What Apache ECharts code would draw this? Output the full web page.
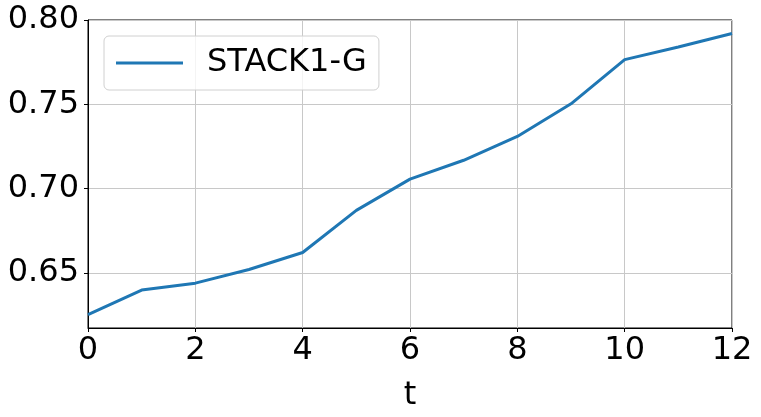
<!DOCTYPE html>
<html>
<head>
<meta charset="utf-8">
<script src="https://cdn.jsdelivr.net/npm/echarts@6/dist/echarts.min.js"></script>
<style>html,body{margin:0;padding:0;background:#fff}#c{width:761px;height:417px}</style>
</head>
<body>
<div id="c"></div>
<script>
const seriesName = 'STACK1-G';
const tValues = [0, 1, 2, 3, 4, 5, 6, 7, 8, 9, 10, 11, 12];
const stackValues = [0.6252, 0.6398, 0.6439, 0.6520, 0.6621, 0.6871, 0.7056, 0.7168, 0.7309, 0.7503, 0.7765, 0.7840, 0.7920];
const xTicks = [0, 2, 4, 6, 8, 10, 12];
const yTicks = [0.65, 0.70, 0.75, 0.80];

const font = 'DejaVu Sans';
const fs = 32;
const chart = echarts.init(document.getElementById('c'), null, {renderer: 'canvas'});
chart.setOption({
  animation: false,
  backgroundColor: '#fff',
  grid: {left: 88, right: 29, top: 20, bottom: 84, show: true, borderColor: '#000', borderWidth: 1, containLabel: false},
  legend: {
    show: true,
    left: 104, top: 36,
    padding: [11, 12, 11, 12],
    itemWidth: 67, itemHeight: 3,
    borderColor: '#d0d0d0', borderWidth: 1, borderRadius: 5,
    backgroundColor: 'rgba(255,255,255,0.8)',
    textStyle: {fontFamily: font, fontSize: fs, color: '#000', padding: [0, 0, 0, 19]},
    icon: 'rect',
    data: [{name: seriesName, itemStyle: {color: '#1f77b4'}}]
  },
  xAxis: {
    type: 'value', min: 0, max: 12, interval: 2,
    name: 't', nameLocation: 'middle', nameGap: 52,
    nameTextStyle: {fontFamily: font, fontSize: fs, color: '#000'},
    axisLine: {show: true, lineStyle: {color: '#000', width: 1}},
    axisTick: {show: true, inside: false, length: 4, lineStyle: {color: '#000'}},
    axisLabel: {fontFamily: font, fontSize: fs, color: '#000', margin: 7,
      formatter: v => xTicks.includes(v) ? String(v) : ''},
    splitLine: {show: true, lineStyle: {color: '#c8c8c8', width: 1}}
  },
  yAxis: {
    type: 'value', min: 0.6173, max: 0.80, splitNumber: 3,
    axisLine: {show: true, lineStyle: {color: '#000', width: 1}},
    axisTick: {show: true, inside: false, length: 4, lineStyle: {color: '#000'}},
    axisLabel: {fontFamily: font, fontSize: fs, color: '#000', margin: 9, showMinLabel: false,
      formatter: v => {
        const m = yTicks.find(t => Math.abs(t - v) < 1e-6);
        return m !== undefined ? m.toFixed(2) : '';
      }},
    splitLine: {show: true, lineStyle: {color: '#c8c8c8', width: 1}}
  },
  series: [{
    name: seriesName,
    type: 'line',
    data: tValues.map((t, i) => [t, stackValues[i]]),
    showSymbol: false,
    lineStyle: {color: '#1f77b4', width: 3},
    itemStyle: {color: '#1f77b4'}
  }]
});
</script>
</body>
</html>
